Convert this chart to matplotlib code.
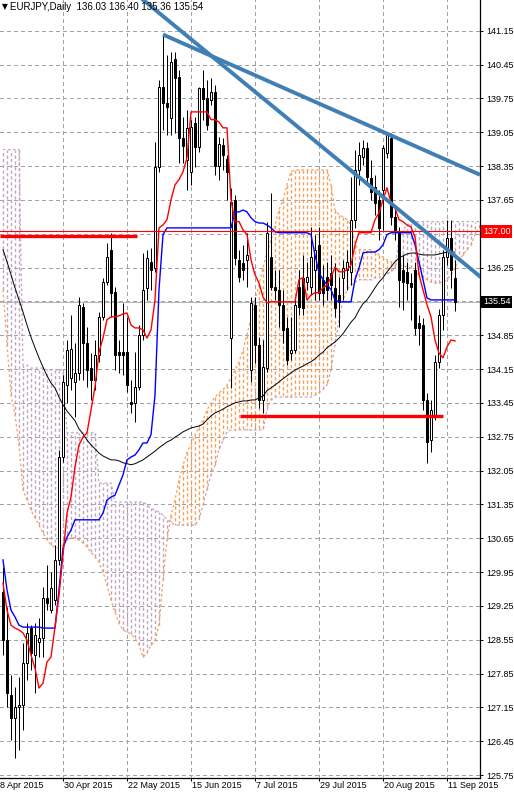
import numpy as np
import matplotlib
matplotlib.use('Agg')
import matplotlib.pyplot as plt
import matplotlib.transforms as mtransforms
from matplotlib.collections import LineCollection

plt.rcParams['font.family'] = ['Liberation Sans', 'DejaVu Sans']

# K线数据 (日线, 开 高 低 收)
opens = [129.54, 128.54, 127.40, 126.93, 127.15, 127.20, 128.07, 128.79, 128.23, 128.50,
         128.58, 129.41, 129.16, 129.37, 130.20, 132.33, 133.82, 133.97, 133.88, 134.07,
         135.44, 134.69, 134.17, 133.93, 134.44, 135.23, 135.95, 136.62, 135.75, 134.50,
         134.50, 134.50, 133.47, 133.45, 133.78, 134.86, 135.83, 136.37, 136.24, 138.33,
         139.99, 139.66, 139.35, 140.57, 140.20, 138.93, 138.48, 138.23, 139.24, 138.75,
         139.97, 139.76, 139.72, 139.89, 138.35, 138.79, 138.50, 134.79, 137.65, 136.41,
         136.35, 136.41, 134.13, 135.48, 134.65, 133.51, 134.17, 136.47, 135.85, 135.79,
         135.48, 135.00, 134.48, 134.55, 135.85, 136.04, 135.95, 135.85, 136.20, 136.72,
         136.00, 136.06, 136.14, 135.83, 135.68, 136.04, 136.20, 136.16, 137.24, 138.27,
         138.54, 138.73, 138.11, 137.92, 137.65, 137.86, 138.62, 138.93, 137.30, 136.97,
         136.20, 136.16, 135.93, 136.20, 135.10, 135.06, 133.51, 132.68, 133.16, 134.30,
         135.27, 136.47, 136.86, 136.03]
highs = [130.06, 129.23, 127.82, 127.57, 127.78, 128.48, 128.89, 128.85, 128.89, 128.99,
         129.64, 130.10, 129.95, 130.51, 132.48, 134.03, 134.75, 135.27, 134.69, 135.64,
         135.52, 135.02, 134.48, 134.75, 135.33, 136.04, 136.76, 136.97, 135.85, 134.75,
         135.52, 135.23, 133.93, 134.50, 135.06, 136.55, 136.62, 136.66, 138.85, 140.13,
         141.07, 140.65, 140.71, 140.71, 140.34, 139.37, 139.51, 139.31, 139.37, 139.99,
         140.34, 140.13, 140.17, 140.03, 138.95, 138.93, 138.58, 137.90, 137.75, 136.62,
         136.72, 136.97, 135.64, 135.64, 134.81, 134.75, 137.20, 137.79, 136.20, 136.20,
         135.79, 135.23, 135.23, 135.64, 136.20, 136.51, 136.37, 137.09, 136.93, 137.09,
         136.30, 136.37, 136.51, 136.35, 136.06, 136.41, 136.62, 138.13, 138.69, 138.85,
         138.89, 138.85, 138.48, 138.17, 137.86, 138.79, 139.04, 139.04, 137.44, 137.09,
         136.51, 136.37, 136.14, 136.37, 135.27, 135.21, 133.66, 133.51, 134.44, 135.40,
         136.62, 137.24, 137.24, 136.40]
lows = [128.23, 127.15, 126.47, 126.10, 126.27, 126.68, 127.72, 127.92, 127.44, 128.19,
        128.19, 129.16, 129.10, 129.27, 130.10, 132.23, 133.45, 133.72, 133.16, 133.93,
        133.93, 133.78, 133.51, 133.72, 134.30, 135.17, 135.89, 135.23, 134.13, 134.07,
        134.03, 133.68, 133.24, 133.06, 133.72, 134.75, 135.58, 135.79, 136.16, 138.23,
        139.10, 138.99, 138.99, 139.04, 138.42, 138.42, 137.86, 137.96, 138.33, 138.64,
        139.31, 139.10, 139.62, 138.17, 138.07, 138.27, 137.65, 133.76, 136.30, 135.95,
        135.99, 135.85, 133.88, 134.28, 133.34, 133.24, 134.09, 135.79, 135.58, 135.02,
        134.69, 134.24, 134.34, 134.48, 135.27, 135.27, 135.79, 135.68, 135.58, 135.58,
        135.48, 135.58, 135.58, 135.23, 135.02, 135.58, 135.79, 135.89, 137.07, 137.96,
        138.37, 137.96, 137.65, 137.34, 136.82, 137.03, 138.52, 137.13, 136.82, 135.44,
        135.37, 135.58, 135.17, 134.86, 134.65, 133.30, 132.21, 132.43, 133.10, 134.17,
        134.96, 136.30, 135.83, 135.36]
closes = [128.54, 127.44, 126.93, 127.15, 127.20, 128.07, 128.69, 128.27, 128.64, 128.58,
          129.41, 129.31, 129.62, 130.20, 132.33, 133.88, 134.55, 134.57, 134.07, 135.48,
          134.69, 134.13, 133.93, 134.44, 135.23, 135.95, 136.47, 135.73, 134.44, 134.44,
          134.44, 133.82, 133.43, 133.78, 134.86, 135.79, 136.45, 136.20, 138.33, 139.99,
          139.66, 139.58, 140.51, 140.18, 138.93, 138.77, 139.14, 139.16, 138.75, 139.97,
          139.74, 139.20, 139.89, 138.35, 138.81, 138.58, 138.23, 137.61, 136.45, 136.06,
          136.20, 136.51, 135.52, 134.65, 133.51, 134.19, 136.97, 135.85, 135.79, 135.48,
          134.96, 134.34, 134.55, 135.48, 135.44, 135.42, 136.06, 136.47, 136.62, 135.73,
          135.73, 135.79, 135.89, 135.42, 135.54, 136.24, 136.37, 137.24, 138.27, 138.58,
          138.73, 138.13, 137.82, 137.59, 137.07, 138.73, 139.00, 137.30, 137.03, 136.00,
          135.95, 135.93, 135.85, 135.00, 135.00, 133.51, 132.64, 133.30, 134.30, 135.27,
          136.47, 136.86, 136.20, 135.54]

# 一目均衡表: 转换线(红) 基准线(蓝)
tenkan = [129.72, 129.16, 128.85, 128.79, 128.75, 128.69, 128.54, 128.23, 127.96, 127.55,
          127.65, 128.09, 128.19, 128.81, 129.47, 130.30, 131.17, 131.50, 132.12, 132.58,
          132.74, 132.83, 133.30, 133.78, 134.50, 134.79, 135.17, 135.23, 135.23, 135.25,
          135.29, 135.31, 135.06, 135.00, 135.00, 134.96, 134.79, 134.96, 135.58, 137.07,
          137.13, 137.24, 137.65, 137.96, 138.07, 138.23, 138.52, 139.47, 139.47, 139.47,
          139.47, 139.47, 139.31, 139.31, 139.26, 139.14, 139.14, 137.65, 137.20, 137.20,
          137.03, 136.93, 136.41, 136.10, 135.93, 135.64, 135.52] + [135.54] * 7 + \
         [136.00, 136.04, 135.58, 135.68, 135.73, 135.73, 135.83, 135.89, 136.04, 136.26,
          136.16, 136.16, 136.20, 136.30, 136.72, 136.97, 136.97, 136.97, 136.97, 137.24,
          137.38, 137.65, 137.90, 137.59, 137.48, 137.24, 137.20, 137.13, 137.09, 136.88,
          136.10, 135.79, 135.48, 135.23, 134.75, 134.48, 134.38, 134.61, 134.75, 134.73]
kijun = [130.20, 129.58, 129.16, 129.02, 128.85] + [128.81] * 5 + [128.79] * 4 + \
        [129.58, 130.45, 130.67, 130.82] + [131.03] * 7 + \
        [131.17, 131.44, 131.50, 131.54, 131.75, 131.96, 132.27, 132.33, 132.37, 132.48,
         132.62, 132.62, 132.79, 133.61, 135.79, 136.93] + [137.07] * 17 + \
        [137.40, 137.40, 137.44, 137.40, 137.28, 137.20, 137.17, 137.17, 137.13, 137.07,
         136.99] + [136.97] * 8 + \
        [136.93, 136.51, 136.14, 136.00, 135.89, 135.79, 135.58] + [135.54] * 4 + \
        [136.00, 136.24, 136.55] + [136.57] * 3 + [136.62, 136.72, 136.93] + [136.97] * 6 + \
        [136.72, 136.37, 136.00, 135.62] + [135.58] * 7

# 先行スパン A / B (向右平移26根, 共120根)
span_a = [135.79, 134.65, 133.61, 133.20, 132.58, 131.65, 131.44, 131.23, 131.07, 130.92,
          130.76, 130.61, 130.51, 130.45, 130.45, 130.51, 130.61, 130.67, 130.65, 130.61,
          130.55, 130.47, 130.36, 130.26, 130.16, 129.95, 129.68, 129.37, 129.12, 128.89,
          128.75, 128.71, 128.67, 128.58, 128.44, 128.19, 128.27, 128.44, 128.52, 128.85,
          129.78, 130.61, 131.13, 131.44, 131.85, 132.16, 132.43, 132.58, 132.79, 132.95,
          133.10, 133.30, 133.45, 133.57, 133.66, 133.72, 133.82, 133.97, 134.13, 134.30,
          134.55, 134.86, 135.21, 135.58, 135.89, 136.24, 136.57, 136.82, 137.13, 137.44,
          137.65, 137.96, 138.23] + [138.27] * 9 + \
         [137.96, 137.44, 137.34, 137.30, 137.24, 137.13, 136.72] + [136.62] * 4 + \
         [136.57, 136.51, 136.47, 136.41, 136.37, 136.33, 136.30, 136.28, 136.26, 136.24,
          136.16, 136.10, 136.04, 136.00, 135.95, 135.93, 135.93, 135.95, 136.00, 136.10,
          136.24, 136.41, 136.51, 136.62, 136.72, 136.93, 137.07]
span_b = [138.69] * 5 + [134.23] * 2 + [134.17] * 4 + [134.13] * 5 + [132.83] * 8 + \
         [131.79] * 4 + [131.40] * 8 + \
         [131.34, 131.27, 131.23, 131.19, 131.13, 131.03, 130.98] + [130.92] * 6 + \
         [131.03, 131.34, 131.65, 131.96, 132.16, 132.48, 132.68, 132.85] + [132.89] * 9 + \
         [133.30, 133.51] + [133.57] * 10 + \
         [133.61, 133.66, 133.72, 133.82, 134.13, 134.65, 135.17, 135.58, 135.79, 135.89,
          135.95] + [136.00] * 4 + [136.04] * 2 + \
         [136.08, 136.12, 136.16, 136.24, 136.82, 137.03, 137.13, 137.17] + [137.20] * 17

# 均线 (黑)
sma = [136.62, 136.37, 136.10, 135.83, 135.58, 135.33, 135.06, 134.81, 134.59, 134.38,
       134.19, 134.01, 133.86, 133.76, 133.57, 133.41, 133.28, 133.18, 133.08, 132.91,
       132.81, 132.68, 132.58, 132.50, 132.41, 132.35, 132.31, 132.27, 132.27, 132.25,
       132.21, 132.19, 132.17, 132.19, 132.23, 132.27, 132.33, 132.39, 132.45, 132.52,
       132.58, 132.64, 132.68, 132.74, 132.79, 132.85, 132.89, 132.93, 132.95, 132.97,
       133.01, 133.10, 133.18, 133.24, 133.28, 133.32, 133.37, 133.41, 133.45, 133.47,
       133.49, 133.49, 133.51, 133.51, 133.55, 133.59, 133.70, 133.76, 133.82, 133.88,
       133.95, 134.01, 134.07, 134.13, 134.17, 134.21, 134.26, 134.30, 134.36, 134.44,
       134.50, 134.59, 134.65, 134.71, 134.79, 134.88, 135.00, 135.12, 135.21, 135.37,
       135.50, 135.58, 135.70, 135.83, 135.95, 136.04, 136.16, 136.26, 136.37, 136.45,
       136.49, 136.53, 136.55, 136.55, 136.53, 136.51, 136.51, 136.51, 136.51, 136.53,
       136.55, 136.57, 136.57, 136.57]

# 坐标轴刻度
price_ticks = [141.15, 140.45, 139.75, 139.05, 138.35, 137.65, 136.95, 136.25, 135.55,
               134.85, 134.15, 133.45, 132.75, 132.05, 131.35, 130.65, 129.95, 129.25,
               128.55, 127.85, 127.15, 126.45, 125.75]
hidden_ticks = [136.95, 135.55]          # 被价格标签挡住
date_ticks = [-1, 15, 31, 47, 63, 79, 95, 111]
date_labels = ['8 Apr 2015', '30 Apr 2015', '22 May 2015', '15 Jun 2015',
               '7 Jul 2015', '29 Jul 2015', '20 Aug 2015', '11 Sep 2015']

# 手绘对象
alert_level = 137.00
bid_price = 135.54
resist_zone = (136.90, -0.75, 33.5)
support_zone = (133.18, 59.25, 110)
trend1 = [(35, 141.79), (113, 136.49)]
trend2 = [(40, 141.07), (96, 139.02)]

up_col = '#f4a25a'      # sandybrown
dn_col = '#c0a6c0'      # thistle

fig = plt.figure(figsize=(5.14, 7.92), dpi=100)
ax = fig.add_axes([0, 14 / 792, 480 / 514, 778 / 792])
ax.set_xlim(-0.75, 119.25)
ax.set_ylim(125.688, 141.785)

# 云层 (竖直虚线填充)
a = np.array(span_a)
b = np.array(span_b)
xc = np.arange(len(a))
segs = [[(xc[i], a[i]), (xc[i], b[i])] for i in range(len(xc))]
cols = [up_col if a[i] > b[i] else dn_col for i in range(len(xc))]
hatch = LineCollection(segs, colors=cols, linewidths=1.0, linestyles='dashed',
                       zorder=1)
hatch.set_dashes([(0, (2.4, 1.8))])
ax.add_collection(hatch)
ax.plot(xc, a, color=up_col, ls=(0, (2, 2)), lw=0.9, zorder=1)
ax.plot(xc, b, color=dn_col, ls=(0, (2, 2)), lw=0.9, zorder=1)

# K线
o = np.array(opens); h = np.array(highs); l = np.array(lows); c = np.array(closes)
x = np.arange(len(c))
ax.vlines(x, l, h, color='black', lw=0.72, zorder=3)
up = c >= o
ax.bar(x[up], c[up] - o[up], bottom=o[up], width=0.5, color='white',
       edgecolor='black', lw=0.72, zorder=4)
ax.bar(x[~up], o[~up] - c[~up], bottom=c[~up], width=0.5, color='black',
       edgecolor='black', lw=0.72, zorder=4)

# 指标线
ax.axhline(bid_price, color='#b8b8b8', lw=0.8, zorder=2)
ax.plot(x, sma, color='black', lw=0.7, zorder=5)
ax.plot(x, kijun, color='blue', lw=1.0, zorder=5)
ax.plot(x, tenkan, color='red', lw=1.0, zorder=5)

# 水平线
ax.axhline(alert_level, color='red', lw=0.8, zorder=6)
for lvl, x0, x1 in [resist_zone, support_zone]:
    ax.hlines(lvl, x0, x1, color='red', lw=2.4, zorder=6)

# 趋势线
tl_col = '#3f7fb5'
ax.axline(trend1[0], trend1[1], color=tl_col, lw=2.8, zorder=7)
k2 = (trend2[1][1] - trend2[0][1]) / (trend2[1][0] - trend2[0][0])
x_end = 119.25
ax.plot([trend2[0][0], x_end], [trend2[0][1], trend2[0][1] + k2 * (x_end - trend2[0][0])],
        color=tl_col, lw=2.8, zorder=7, solid_capstyle='butt')

# 网格和坐标轴
ax.grid(True, color='#a4a0aa', ls=(0, (3, 3)), lw=0.72, antialiased=False)
ax.set_axisbelow(True)
for s in ['top', 'left']:
    ax.spines[s].set_visible(False)
ax.spines['right'].set_linewidth(0.9)
ax.spines['bottom'].set_linewidth(0.9)

ax.yaxis.tick_right()
ax.set_yticks(price_ticks)
ax.set_yticklabels(['' if p in hidden_ticks else '%.2f' % p for p in price_ticks])
ax.tick_params(axis='y', direction='out', length=2.5, width=0.7, pad=2, labelsize=6.5)
ax.set_xticks(date_ticks[1:])
ax.set_xticklabels([])
ax.tick_params(axis='x', direction='out', length=2.5, width=0.7)

tx = mtransforms.blended_transform_factory(ax.transData, ax.transAxes)
for t, lab in zip(date_ticks, date_labels):
    ax.text(t + 0.3, -0.004, lab, transform=tx, ha='left', va='top',
            fontsize=6.5, clip_on=False)

# 右侧价格标签
ty = mtransforms.blended_transform_factory(ax.transAxes, ax.transData)
ax.text(1.0 + 3 / 480, alert_level, '%.2f' % alert_level, transform=ty, color='white',
        fontsize=6.5, ha='left', va='center', clip_on=False, zorder=20,
        bbox=dict(boxstyle='square,pad=0.2', fc='#ff0000', ec='none'))
ax.text(1.0 + 3 / 480, bid_price, '%.2f' % bid_price, transform=ty, color='white',
        fontsize=6.5, ha='left', va='center', clip_on=False, zorder=20,
        bbox=dict(boxstyle='square,pad=0.2', fc='black', ec='none'))

# 标题
ax.text(0.004, 0.9915, '\u25bc', transform=ax.transAxes, fontsize=5.5,
        ha='left', va='center', zorder=20, family=['DejaVu Sans'])
ax.text(0.021, 0.9915, 'EURJPY,Daily  136.03 136.40 135.36 135.54',
        transform=ax.transAxes, fontsize=7, ha='left', va='center', zorder=20)

fig.savefig('out.png', dpi=100)
